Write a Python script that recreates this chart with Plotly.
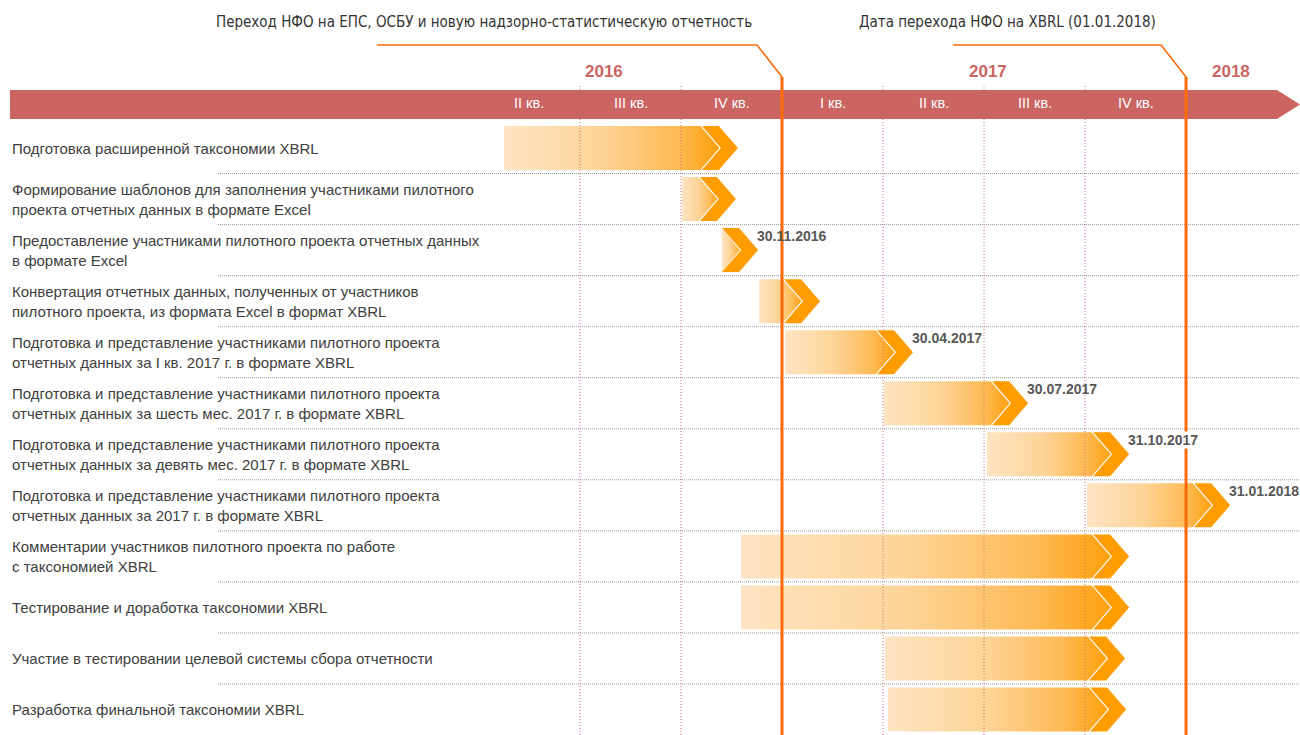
import plotly.graph_objects as go

# ---------------- data ----------------
tasks = [
    "Подготовка расширенной таксономии XBRL",
    "Формирование шаблонов для заполнения участниками пилотного<br>проекта отчетных данных в формате Excel",
    "Предоставление участниками пилотного проекта отчетных данных<br>в формате Excel",
    "Конвертация отчетных данных, полученных от участников<br>пилотного проекта, из формата Excel в формат XBRL",
    "Подготовка и представление участниками пилотного проекта<br>отчетных данных за I кв. 2017 г. в формате XBRL",
    "Подготовка и представление участниками пилотного проекта<br>отчетных данных за шесть мес. 2017 г. в формате XBRL",
    "Подготовка и представление участниками пилотного проекта<br>отчетных данных за девять мес. 2017 г. в формате XBRL",
    "Подготовка и представление участниками пилотного проекта<br>отчетных данных за 2017 г. в формате XBRL",
    "Комментарии участников пилотного проекта по работе<br>с таксономией XBRL",
    "Тестирование и доработка таксономии XBRL",
    "Участие в тестировании целевой системы сбора отчетности",
    "Разработка финальной таксономии XBRL",
]
# time in months since 1 Jan 2016
task_start = [3.74, 9.03, 10.22, 11.32, 12.09, 15.03, 18.09, 21.06, 10.78, 10.78, 15.06, 15.15]
task_end = [10.69, 10.63, 11.29, 13.13, 15.89, 19.31, 22.31, 25.31, 22.31, 22.31, 22.19, 22.22]
deadlines = ["", "", "30.11.2016", "", "30.04.2017", "30.07.2017", "31.10.2017", "31.01.2018", "", "", "", ""]

quarter_labels = ["II кв.", "III кв.", "IV кв.", "I кв.", "II кв.", "III кв.", "IV кв."]
quarter_mid = [4.5, 7.5, 10.5, 13.5, 16.5, 19.5, 22.5]
quarter_bounds = [6, 9, 15, 18, 21]

year_labels = ["2016", "2017", "2018"]
year_pos = [6.71, 18.12, 25.33]

milestones = [12, 24]
milestone_titles = [
    "Переход НФО на ЕПС, ОСБУ и новую надзорно-статистическую отчетность",
    "Дата перехода НФО на XBRL (01.01.2018)",
]

# ---------------- layout helpers ----------------
W, H = 1300, 735
PXM = 33.67      # px per month
PXR = 51.05      # px per row


def xpx(p):      # pixel -> month
    return 9 + (p - 681) / PXM


def ypx(p):      # pixel -> row
    return (p - 148) / PXR


def dx(p):
    return p / PXM


def dy(p):
    return p / PXR


X0, X1 = xpx(0), xpx(W)
Y_TOP, Y_BOT = ypx(0), ypx(H)

ORANGE = "#FF9C00"
LINE_OR = "#FC6A0A"
BAND = "#CB6562"
TXT = "#404040"
COND = "DejaVu Sans Condensed, Liberation Sans Narrow, sans-serif"
SANS = "Liberation Sans, Arial, Helvetica, sans-serif"

grad = [[0, "#FEE4C3"], [0.45, "#FDD498"], [0.8, "#FDBA55"], [1, "#FFA00C"]]

fig = go.Figure()

HALF = dy(22)
CW, CD, GAP = dx(17), dx(19), dx(1.5)

chev_x, chev_y = [], []
for i, (s, t) in enumerate(zip(task_start, task_end)):
    top, bot = i - HALF, i + HALF
    corner = max(s, t - CW - CD - GAP)
    tip = t - CW - GAP
    fig.add_trace(go.Scatter(
        x=[s, corner, tip, corner, s, s],
        y=[top, top, i, bot, bot, top],
        mode="lines", fill="toself",
        fillgradient=dict(type="horizontal", colorscale=grad),
        line=dict(width=0, color="rgba(0,0,0,0)"),
        hoverinfo="skip", showlegend=False,
    ))
    chev_x += [t - CW - CD, t - CD, t, t - CD, t - CW - CD, t - CW, t - CW - CD, None]
    chev_y += [top, top, i, bot, bot, i, top, None]

fig.add_trace(go.Scatter(
    x=chev_x, y=chev_y, mode="lines", fill="toself", fillcolor=ORANGE,
    line=dict(width=0, color="rgba(0,0,0,0)"), hoverinfo="skip", showlegend=False,
))

shapes = []
# horizontal row separators
for i in range(len(tasks) - 1):
    yy = i + 0.5
    shapes.append(dict(type="line", xref="x", yref="y", x0=xpx(218), x1=xpx(1300), y0=yy, y1=yy,
                       line=dict(color="#9A9A9A", width=1, dash="1px,1px"), layer="below"))
# quarter dotted verticals
for q in quarter_bounds:
    shapes.append(dict(type="line", xref="x", yref="y", x0=q, x1=q, y0=ypx(86), y1=Y_BOT,
                       line=dict(color="#D86E6E", width=1, dash="1px,2px"), layer="above"))
# header band with arrow head
bx0, bx1, bx2 = xpx(10), xpx(1277), xpx(1300)
by0, by1, bym = ypx(90), ypx(119), ypx(104.5)
shapes.append(dict(type="path", xref="x", yref="y",
                   path=f"M {bx0},{by0} L {bx1},{by0} L {bx2},{bym} L {bx1},{by1} L {bx0},{by1} Z",
                   fillcolor=BAND, line=dict(width=0), layer="above"))
# milestone call-out lines
line_start_px = [405, 233]
for m, off in zip(milestones, line_start_px):
    shapes.append(dict(type="path", xref="x", yref="y",
                       path=f"M {m - dx(off)},{ypx(45)} L {m - dx(25)},{ypx(45)} L {m},{ypx(77)}",
                       line=dict(color=LINE_OR, width=1.6), layer="above"))
    shapes.append(dict(type="line", xref="x", yref="y", x0=m, x1=m, y0=ypx(77), y1=Y_BOT,
                       line=dict(color=LINE_OR, width=3), layer="above"))

annotations = []
for i, lab in enumerate(tasks):
    annotations.append(dict(x=xpx(10), y=i, xref="x", yref="y", text=lab, showarrow=False,
                            xanchor="left", yanchor="middle", align="left",
                            font=dict(family=SANS, size=15, color=TXT)))
for i, (d, t) in enumerate(zip(deadlines, task_end)):
    if d:
        annotations.append(dict(x=t - dx(2), y=i - dy(14), xref="x", yref="y", text=d, showarrow=False,
                                xanchor="left", yanchor="middle",
                                bgcolor="white" if i == 6 else "rgba(0,0,0,0)", borderpad=0,
                                font=dict(family=SANS, size=14, color="#585858", weight="bold")))
for q, m in zip(quarter_labels, quarter_mid):
    annotations.append(dict(x=m, y=ypx(103), xref="x", yref="y", text=q, showarrow=False,
                            xanchor="center", yanchor="middle",
                            font=dict(family=SANS, size=14.5, color="white")))
for yl, m in zip(year_labels, year_pos):
    annotations.append(dict(x=m, y=ypx(71), xref="x", yref="y", text=yl, showarrow=False,
                            xanchor="center", yanchor="middle",
                            font=dict(family=SANS, size=17, color=BAND, weight="bold")))
for m, title in zip(milestones, milestone_titles):
    annotations.append(dict(x=m - dx(28), y=ypx(22), xref="x", yref="y", text=title, showarrow=False,
                            xanchor="right", yanchor="middle",
                            font=dict(family=COND, size=15, color="#333333")))

fig.update_layout(
    width=W, height=H, margin=dict(l=0, r=0, t=0, b=0),
    paper_bgcolor="white", plot_bgcolor="white",
    xaxis=dict(range=[X0, X1], visible=False, fixedrange=True),
    yaxis=dict(range=[Y_BOT, Y_TOP], visible=False, fixedrange=True),
    shapes=shapes, annotations=annotations, showlegend=False, hovermode=False,
)

fig.write_html(
    "out.html",
    config={"displayModeBar": False},
    post_script="document.body.style.margin='0px';document.body.style.overflow='hidden';",
)
